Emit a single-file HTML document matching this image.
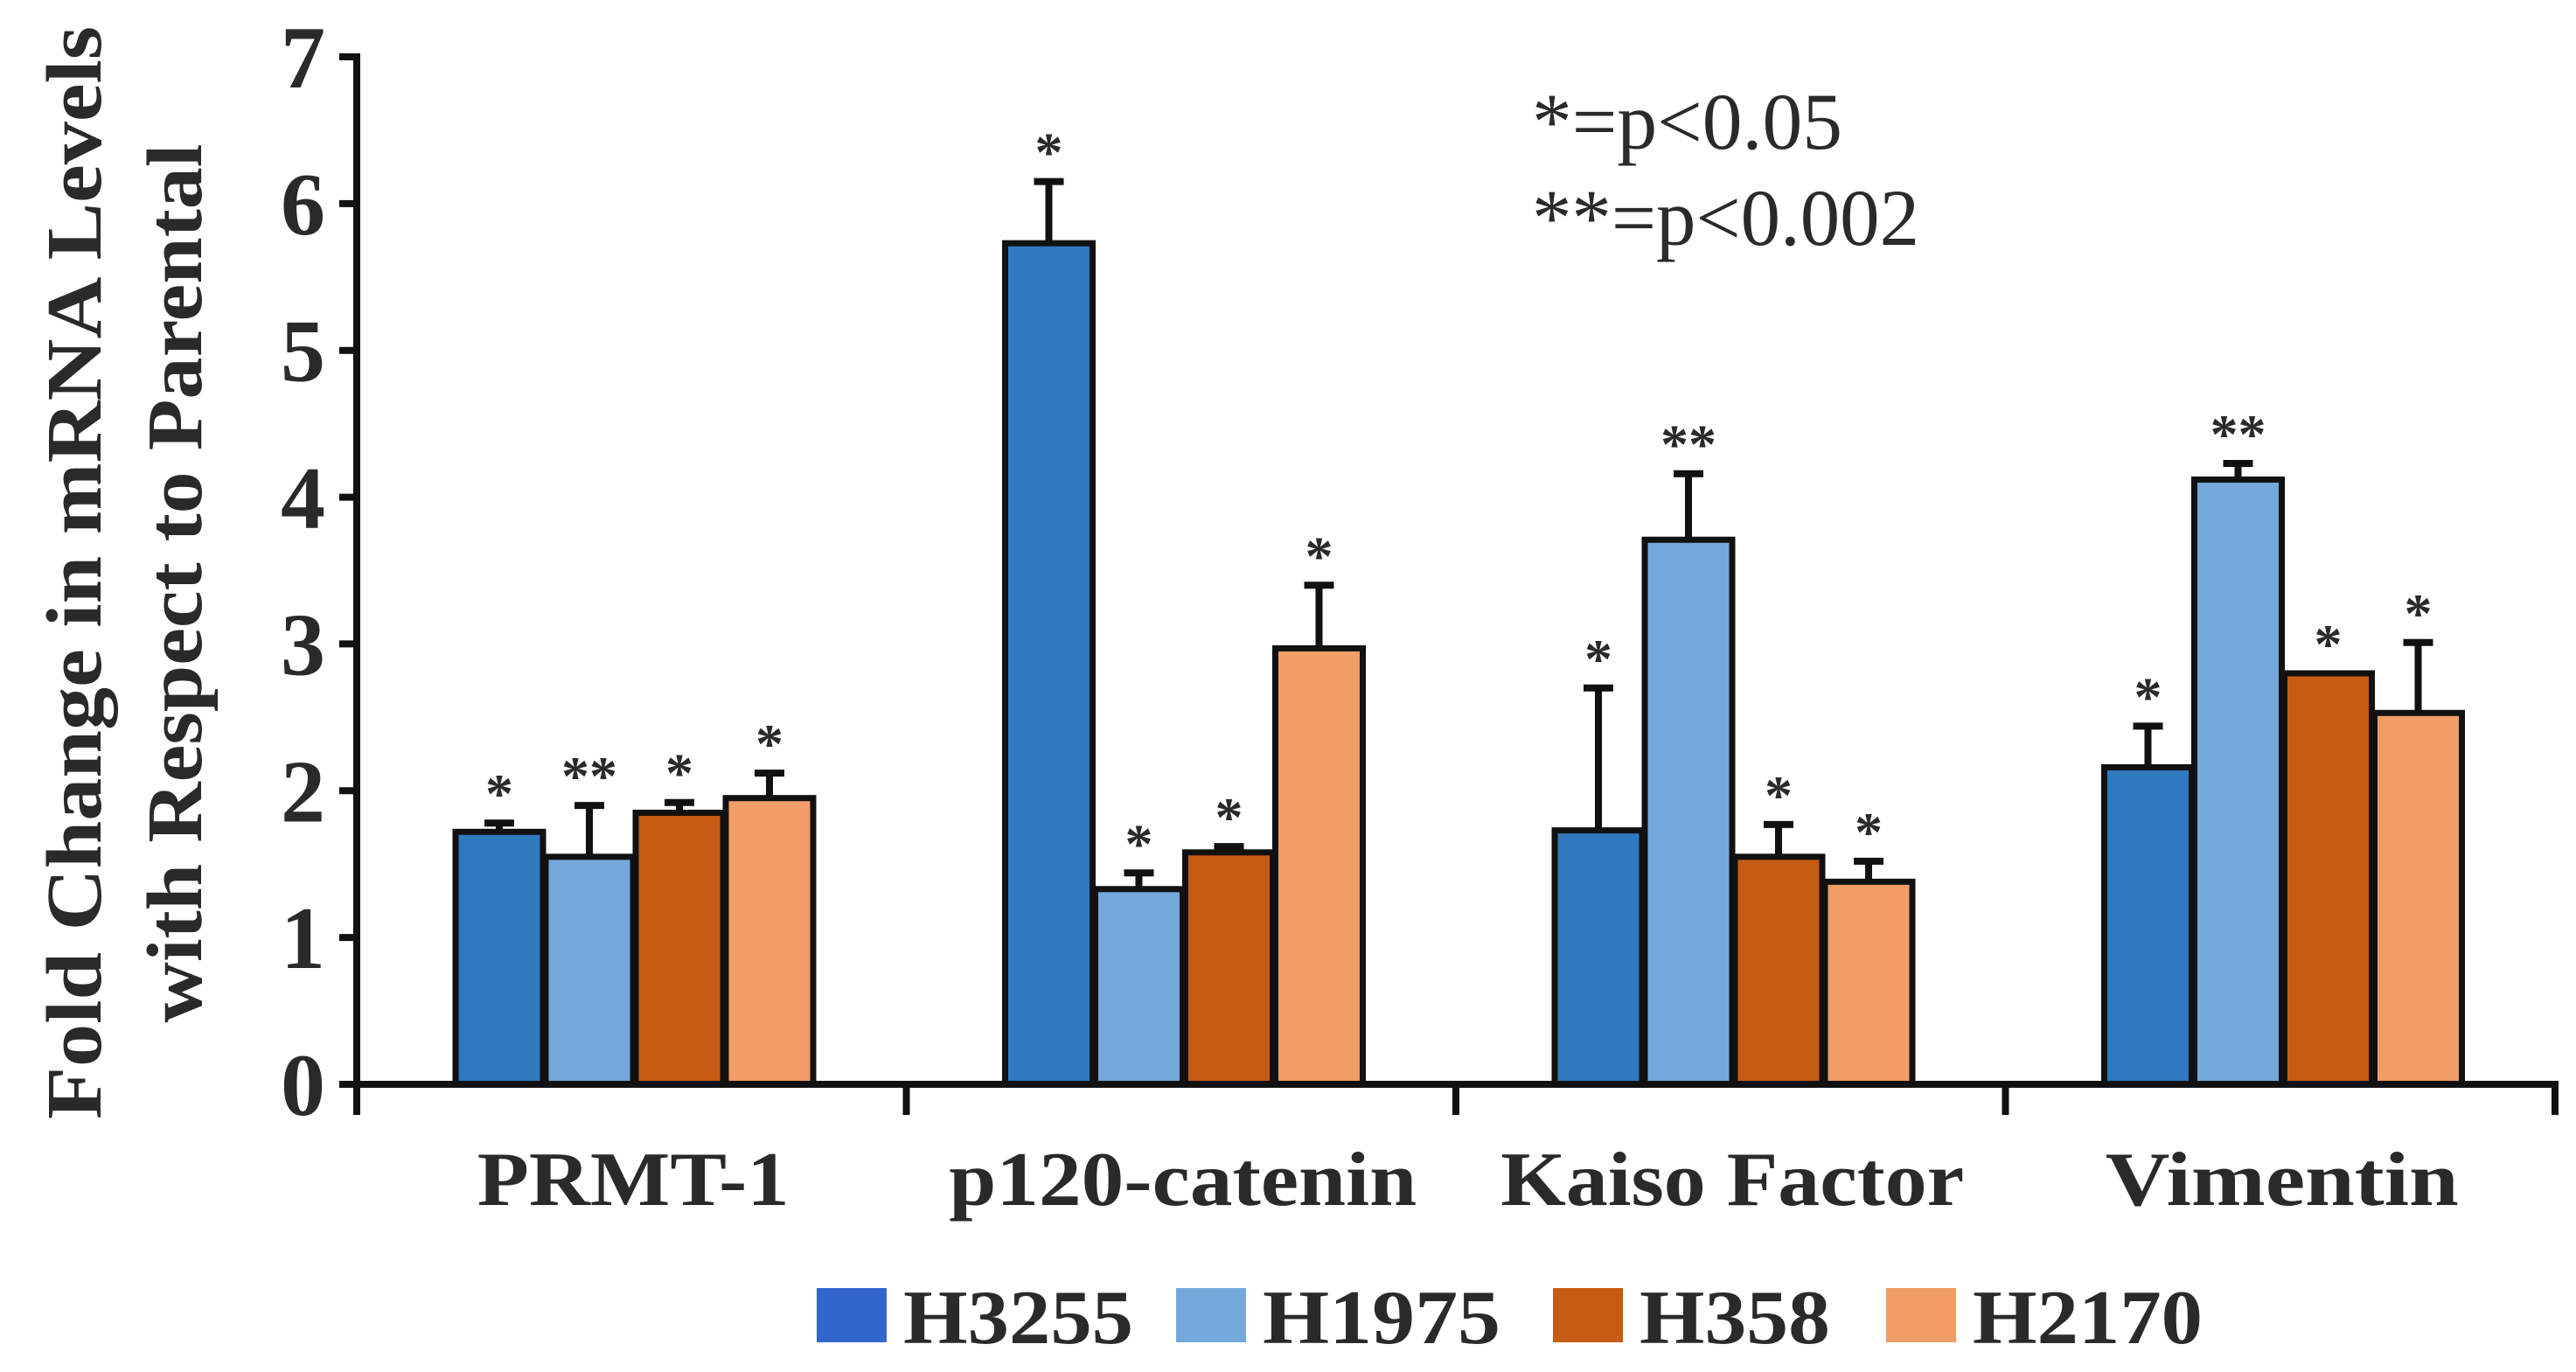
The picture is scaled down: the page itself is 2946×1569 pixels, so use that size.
<!DOCTYPE html>
<html><head><meta charset="utf-8"><style>
html,body{margin:0;padding:0;background:#fff;}
svg{display:block;}
text{font-family:"Liberation Serif",serif;fill:#2a2a2a;}
</style></head><body>
<svg id="chart" width="2946" height="1569" viewBox="0 0 2946 1569" xmlns="http://www.w3.org/2000/svg">
<g>
<text x="0" y="0" transform="translate(115,655) rotate(-90)" text-anchor="middle" font-size="90" font-weight="bold" textLength="1250" lengthAdjust="spacingAndGlyphs">Fold Change in mRNA Levels</text>
<text x="0" y="0" transform="translate(230,667) rotate(-90)" text-anchor="middle" font-size="90" font-weight="bold" textLength="1005" lengthAdjust="spacingAndGlyphs">with Respect to Parental</text>
</g>
<g>
<text x="1752" y="170" font-size="92" textLength="355" lengthAdjust="spacingAndGlyphs">*=p&lt;0.05</text>
<text x="1752" y="280" font-size="92" textLength="443" lengthAdjust="spacingAndGlyphs">**=p&lt;0.002</text>
</g>
<g id="plot"></g>
<g id="legend"></g>
</svg>
<script>
const categories = ["PRMT-1", "p120-catenin", "Kaiso Factor", "Vimentin"];
const seriesNames = ["H3255", "H1975", "H358", "H2170"];
const h3255 = [1.72, 5.73, 1.73, 2.16];
const h1975 = [1.55, 1.33, 3.71, 4.12];
const h358 = [1.85, 1.58, 1.55, 2.80];
const h2170 = [1.95, 2.97, 1.38, 2.53];
const err3255 = [0.06, 0.42, 0.97, 0.28];
const err1975 = [0.35, 0.11, 0.45, 0.11];
const err358 = [0.07, 0.04, 0.22, 0.0];
const err2170 = [0.17, 0.43, 0.14, 0.48];
const sig3255 = ["*", "*", "*", "*"];
const sig1975 = ["**", "*", "**", "**"];
const sig358 = ["*", "*", "*", "*"];
const sig2170 = ["*", "*", "*", "*"];
const yTicks = [0, 1, 2, 3, 4, 5, 6, 7];

const colors = ["#2f79be", "#74a8db", "#c65b13", "#f09d66"];
const legendColors = ["#3366cc", "#74a8db", "#c65b13", "#f09d66"];
const catLens = [357, 535, 530, 404];
const legLens = [263, 272, 218, 263];
const NS = "http://www.w3.org/2000/svg";
const plot = document.getElementById("plot");
const X0 = 408, X1 = 2922, Y0 = 1240, Y7 = 65;
const yScale = v => Y0 - (Y0 - Y7) * v / 7;
const groupW = (X1 - X0) / categories.length;
const barW = 100, barPitch = 103, groupOffset = 113;
const xBar = (g, s) => X0 + g * groupW + groupOffset + s * barPitch;
function mk(tag, attrs, parent) {
  const e = document.createElementNS(NS, tag);
  for (const k in attrs) e.setAttribute(k, attrs[k]);
  (parent || plot).appendChild(e);
  return e;
}
const values = [h3255, h1975, h358, h2170];
const errs = [err3255, err1975, err358, err2170];
const sigs = [sig3255, sig1975, sig358, sig2170];

for (let g = 0; g < categories.length; g++) {
  for (let s = 0; s < 4; s++) {
    const v = values[s][g], e = errs[s][g];
    const x = xBar(g, s), xc = x + barW / 2;
    const top = yScale(v + e);
    if (e > 0) {
      const el = mk("line", {x1: xc, x2: xc, y1: yScale(v), y2: top, stroke: "#111", "stroke-width": 8});
      
      
      const cap = mk("line", {x1: xc - 17, x2: xc + 17, y1: top, y2: top, stroke: "#111", "stroke-width": 8});
      
      
    }
    const r = mk("rect", {x: x, y: yScale(v), width: barW, height: Y0 - yScale(v), fill: colors[s], stroke: "#111", "stroke-width": 7});
    
    
    const t = mk("text", {x: xc, y: top - 12, "text-anchor": "middle", "font-size": 64, "font-weight": "bold"});
    t.textContent = sigs[s][g];
    
    
  }
  const lab = mk("text", {x: X0 + g * groupW + groupW / 2 + 2, y: 1378, "text-anchor": "middle", "font-size": 88, "font-weight": "bold", textLength: catLens[g], lengthAdjust: "spacingAndGlyphs"});
  lab.textContent = categories[g];
  
  
  const tk = mk("line", {x1: X0 + (g + 1) * groupW, x2: X0 + (g + 1) * groupW, y1: Y0, y2: 1275, stroke: "#111", "stroke-width": 8});
  
  
}
const xa = mk("line", {x1: X0 - 20, x2: X1 + 4, y1: Y0, y2: Y0, stroke: "#111", "stroke-width": 8});


const ya = mk("line", {x1: X0, x2: X0, y1: Y7 - 4, y2: 1275, stroke: "#111", "stroke-width": 8});


yTicks.forEach(v => {
  const l = mk("line", {x1: X0 - 20, x2: X0, y1: yScale(v), y2: yScale(v), stroke: "#111", "stroke-width": 8});
  
  
  const t = mk("text", {x: 372, y: yScale(v) + 35, "text-anchor": "end", "font-size": 102, "font-weight": "bold"});
  t.textContent = v;
  
  
});
const legend = document.getElementById("legend");
const legX = [934, 1345, 1776, 2157];
seriesNames.forEach((n, i) => {
  const r = mk("rect", {x: legX[i], y: 1473, width: 80, height: 62, fill: legendColors[i]}, legend);
  
  
  const t = mk("text", {x: legX[i] + 99, y: 1536, "font-size": 88, "font-weight": "bold", textLength: legLens[i], lengthAdjust: "spacingAndGlyphs"}, legend);
  t.textContent = n;
  
  
});
</script>
</body></html>
